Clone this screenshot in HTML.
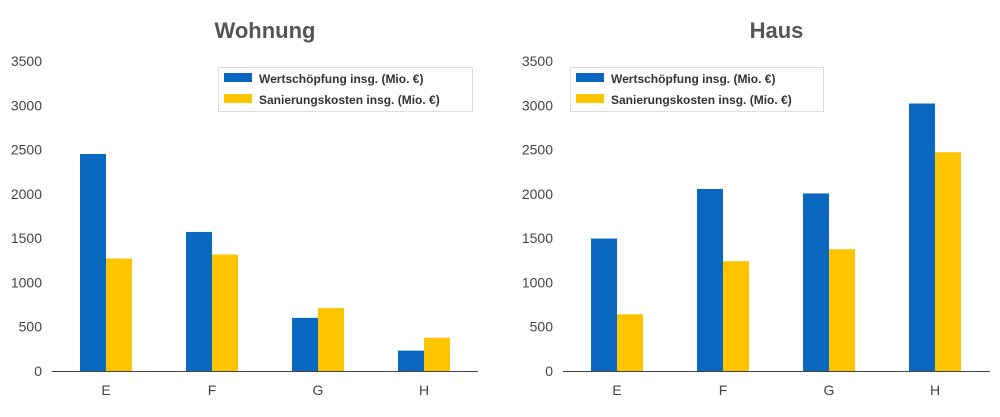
<!DOCTYPE html>
<html><head><meta charset="utf-8"><style>
body{margin:0;background:#fff;width:1000px;height:412px;overflow:hidden;font-family:"Liberation Sans",sans-serif}
</style></head><body>
<svg id="c" width="1000" height="412"></svg>
<script>
const categories=["E","F","G","H"];
const wohnungWert=[2450,1570,600,230];
const wohnungSan=[1270,1315,710,375];
const hausWert=[1495,2055,2005,3020];
const hausSan=[640,1240,1375,2470];
const yTicks=[0,500,1000,1500,2000,2500,3000,3500];
const seriesNames=["Wertschöpfung insg. (Mio. €)","Sanierungskosten insg. (Mio. €)"];
const colors=["#0a68c0","#fdc400"];
const svg=document.getElementById('c');
const NS="http://www.w3.org/2000/svg";
function mk(t,a,p){const e=document.createElementNS(NS,t);for(const k in a)e.setAttribute(k,a[k]);(p||svg).appendChild(e);return e;}
function panel(title,x0,x1,labelX,wert,san,pname){
  const g=mk('g',{});
  
  
  const y=v=>371-v*(310/3500);
  const step=106,first=x0+54;
  const t=mk('text',{x:(x0+x1)/2,y:38,'text-anchor':'middle','font-size':22,'font-weight':'bold',fill:'#555'},g);
  t.textContent=title;
  
  
  yTicks.forEach(v=>{const tt=mk('text',{x:labelX,y:y(v)+5,'text-anchor':'end','font-size':14,fill:'#444'},g);tt.textContent=v;
    
    });
  categories.forEach((c,i)=>{
    const cx=first+i*step;
    [wert,san].forEach((arr,s)=>{
      const r=mk('rect',{x:cx-26+s*26,y:y(arr[i]),width:26,height:371-y(arr[i]),fill:colors[s]},g);
      
      
    });
    const l=mk('text',{x:cx,y:395,'text-anchor':'middle','font-size':14,fill:'#444'},g);l.textContent=c;
    
    
  });
  const ax=mk('line',{x1:x0,x2:x1,y1:371.5,y2:371.5,stroke:'#444','stroke-width':1},g);
  
  
}
panel("Wohnung",52,478,42,wohnungWert,wohnungSan,'wohnung');
panel("Haus",563,990,553,hausWert,hausSan,'haus');
[218,570].forEach((lx,j)=>{
  const lg=mk('g',{});
  
  
  mk('rect',{x:lx+0.5,y:67.5,width:j?253:254,height:44,fill:'#fff',stroke:'#ddd'},lg);
  seriesNames.forEach((n,s)=>{
    const sw=mk('rect',{x:lx+6,y:73+s*21,width:28,height:9,fill:colors[s]},lg);
    
    
    const tx=mk('text',{x:lx+41,y:83+s*21,'font-size':12,'font-weight':'bold',fill:'#333'},lg);
    tx.textContent=n;
    
    
  });
});
</script>
</body></html>
